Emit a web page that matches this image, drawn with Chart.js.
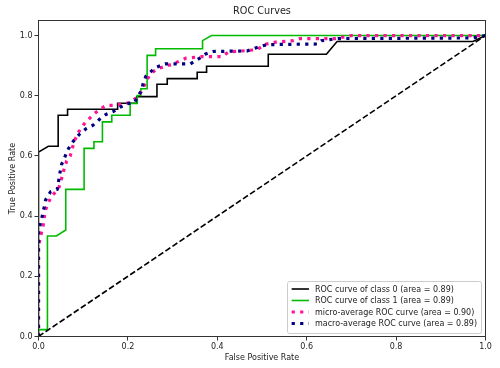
<!DOCTYPE html>
<html>
<head>
<meta charset="utf-8">
<script src="https://cdn.jsdelivr.net/npm/chart.js@4.4.0/dist/chart.umd.min.js"></script>
<style>
  html, body { margin: 0; padding: 0; background: #fff; }
  #wrap { width: 500px; height: 368px; }
</style>
</head>
<body>
<div id="wrap"><canvas id="roc-chart"></canvas></div>
<script>
// Values (false positive rate / true positive rate)
const seriesLabels = [
  'ROC curve of class 0 (area = 0.89)',
  'ROC curve of class 1 (area = 0.89)',
  'micro-average ROC curve (area = 0.90)',
  'macro-average ROC curve (area = 0.89)'
];

const class0Fpr = [0, 0, 0.022, 0.044, 0.044, 0.065, 0.065, 0.177, 0.177, 0.22, 0.22, 0.265, 0.265, 0.288, 0.288, 0.355, 0.355, 0.376, 0.376, 0.514, 0.514, 0.644, 0.668, 0.972, 1];
const class0Tpr = [0, 0.613, 0.632, 0.632, 0.735, 0.735, 0.755, 0.755, 0.775, 0.775, 0.797, 0.797, 0.838, 0.838, 0.857, 0.857, 0.878, 0.878, 0.898, 0.898, 0.938, 0.938, 0.98, 0.98, 1];

const class1Fpr = [0, 0, 0.02, 0.02, 0.04, 0.061, 0.061, 0.102, 0.102, 0.124, 0.124, 0.143, 0.143, 0.164, 0.164, 0.205, 0.205, 0.221, 0.221, 0.229, 0.229, 0.243, 0.243, 0.262, 0.262, 0.367, 0.367, 0.387, 1];
const class1Tpr = [0, 0.023, 0.023, 0.334, 0.334, 0.354, 0.489, 0.489, 0.625, 0.625, 0.647, 0.647, 0.713, 0.713, 0.735, 0.735, 0.774, 0.774, 0.801, 0.801, 0.823, 0.823, 0.934, 0.934, 0.956, 0.956, 0.983, 1, 1];

const microFpr = [0, 0, 0.005, 0.01, 0.015, 0.02, 0.03, 0.045, 0.05, 0.055, 0.063, 0.071, 0.08, 0.09, 0.104, 0.117, 0.128, 0.139, 0.152, 0.166, 0.205, 0.225, 0.232, 0.24, 0.25, 0.265, 0.3, 0.33, 0.365, 0.41, 0.425, 0.488, 0.51, 0.53, 0.57, 0.585, 0.665, 0.7, 1];
const microTpr = [0, 0.3, 0.335, 0.365, 0.415, 0.44, 0.467, 0.492, 0.515, 0.545, 0.583, 0.6, 0.649, 0.68, 0.71, 0.729, 0.744, 0.757, 0.768, 0.768, 0.777, 0.8, 0.82, 0.845, 0.872, 0.889, 0.905, 0.925, 0.93, 0.93, 0.945, 0.953, 0.972, 0.978, 0.983, 0.99, 0.99, 1, 1];

const macroFpr = [0, 0, 0.01, 0.016, 0.027, 0.042, 0.045, 0.048, 0.052, 0.06, 0.067, 0.078, 0.091, 0.106, 0.122, 0.136, 0.151, 0.168, 0.184, 0.199, 0.215, 0.221, 0.231, 0.234, 0.24, 0.26, 0.283, 0.34, 0.359, 0.374, 0.39, 0.467, 0.484, 0.504, 0.52, 0.625, 0.633, 0.67, 0.97, 1];
const macroTpr = [0, 0.35, 0.41, 0.454, 0.481, 0.489, 0.517, 0.544, 0.573, 0.6, 0.624, 0.649, 0.671, 0.69, 0.702, 0.721, 0.738, 0.748, 0.763, 0.774, 0.777, 0.796, 0.818, 0.84, 0.864, 0.892, 0.906, 0.906, 0.923, 0.939, 0.947, 0.949, 0.958, 0.967, 0.97, 0.972, 0.983, 0.99, 0.992, 1];

const chanceFpr = [0, 1];
const chanceTpr = [0, 1];

const xTicks = [0, 0.2, 0.4, 0.6, 0.8, 1.0];
const yTicks = [0, 0.2, 0.4, 0.6, 0.8, 1.0];

const FONT = '"DejaVu Sans", sans-serif';

function toPoints(xs, ys) {
  return xs.map((x, i) => ({ x: x, y: ys[i] }));
}

// matplotlib-like frame, title and legend box
const mplDecor = {
  id: 'mplDecor',
  afterDraw(chart) {
    const { ctx, chartArea } = chart;
    ctx.save();

    // spines
    ctx.strokeStyle = '#333';
    ctx.lineWidth = 1;
    ctx.setLineDash([]);
    ctx.strokeRect(chartArea.left, chartArea.top, chartArea.right - chartArea.left, chartArea.bottom - chartArea.top);

    // title
    ctx.fillStyle = '#222';
    ctx.font = '9.7px ' + FONT;
    ctx.textAlign = 'center';
    ctx.textBaseline = 'middle';
    ctx.fillText('ROC Curves', (chartArea.left + chartArea.right) / 2, 11.5);

    // legend
    const items = chart.data.datasets.filter(d => d.label);
    ctx.font = '8px ' + FONT;
    const textW = Math.max(...items.map(d => ctx.measureText(d.label).width));
    const rowH = 11.5;
    const w = 4.7 + 17.3 + 6 + textW + 4;
    const h = 52;
    const right = chartArea.right - 4.5;
    const bottom = chartArea.bottom - 3.5;
    const left = right - w;
    const top = bottom - h;

    ctx.fillStyle = 'rgba(255,255,255,0.8)';
    ctx.strokeStyle = '#cccccc';
    ctx.lineWidth = 1;
    ctx.beginPath();
    ctx.roundRect(Math.round(left) + 0.5, Math.round(top) + 0.5, Math.round(w), Math.round(h), 2);
    ctx.fill();
    ctx.stroke();

    items.forEach((d, i) => {
      const cy = top + 8 + i * rowH;
      ctx.strokeStyle = d.borderColor;
      ctx.lineWidth = d.borderWidth;
      ctx.setLineDash(d.borderDash || []);
      ctx.lineCap = 'butt';
      ctx.beginPath();
      ctx.moveTo(left + 4.7, cy);
      ctx.lineTo(left + 22, cy);
      ctx.stroke();
      ctx.setLineDash([]);
      ctx.fillStyle = '#222';
      ctx.textAlign = 'left';
      ctx.textBaseline = 'middle';
      ctx.fillText(d.label, left + 28, cy + 0.5);
    });

    ctx.restore();
  }
};

const config = {
  type: 'line',
  data: {
    datasets: [
      {
        label: seriesLabels[0],
        data: toPoints(class0Fpr, class0Tpr),
        borderColor: '#000000',
        borderWidth: 1.6,
        order: 5
      },
      {
        label: seriesLabels[1],
        data: toPoints(class1Fpr, class1Tpr),
        borderColor: '#00bb00',
        borderWidth: 1.6,
        order: 4
      },
      {
        label: seriesLabels[2],
        data: toPoints(microFpr, microTpr),
        borderColor: '#ff1493',
        borderWidth: 3.2,
        borderDash: [3.2, 5.3],
        order: 3
      },
      {
        label: seriesLabels[3],
        data: toPoints(macroFpr, macroTpr),
        borderColor: '#000080',
        borderWidth: 3.2,
        borderDash: [3.2, 5.3],
        order: 2
      },
      {
        label: '',
        data: toPoints(chanceFpr, chanceTpr),
        borderColor: '#000000',
        borderWidth: 1.6,
        borderDash: [5.9, 2.6],
        order: 1
      }
    ]
  },
  options: {
    responsive: true,
    maintainAspectRatio: false,
    animation: false,
    layout: {
      padding: { top: 20.5, right: 14.5, left: 0, bottom: 0 }
    },
    elements: {
      point: { radius: 0, hoverRadius: 0 },
      line: { tension: 0, fill: false, borderCapStyle: 'butt' }
    },
    plugins: {
      legend: { display: false },
      title: { display: false },
      tooltip: { enabled: false }
    },
    scales: {
      x: {
        type: 'linear',
        min: 0,
        max: 1,
        afterFit: scale => { scale.height = 31.5; },
        afterBuildTicks: scale => { scale.ticks = xTicks.map(v => ({ value: v })); },
        border: { display: false },
        grid: {
          drawOnChartArea: false,
          drawTicks: true,
          tickLength: 4,
          color: '#333'
        },
        ticks: {
          autoSkip: false,
          maxRotation: 0,
          padding: 2,
          color: '#222',
          font: { family: FONT, size: 8 },
          callback: v => v.toFixed(1)
        },
        title: {
          display: true,
          text: 'False Positive Rate',
          color: '#222',
          font: { family: FONT, size: 8 },
          padding: { top: 0, bottom: 5 }
        }
      },
      y: {
        type: 'linear',
        min: 0,
        max: 1.05,
        afterFit: scale => { scale.width = 38.5; },
        afterBuildTicks: scale => { scale.ticks = yTicks.map(v => ({ value: v })); },
        border: { display: false },
        grid: {
          drawOnChartArea: false,
          drawTicks: true,
          tickLength: 4,
          color: '#333'
        },
        ticks: {
          padding: 2,
          color: '#222',
          font: { family: FONT, size: 8 },
          callback: v => v.toFixed(1)
        },
        title: {
          display: true,
          text: 'True Positive Rate',
          color: '#222',
          font: { family: FONT, size: 8 },
          padding: { top: 8, bottom: 0 }
        }
      }
    }
  },
  plugins: [mplDecor]
};

const chart = new Chart(document.getElementById('roc-chart').getContext('2d'), config);
</script>
</body>
</html>
